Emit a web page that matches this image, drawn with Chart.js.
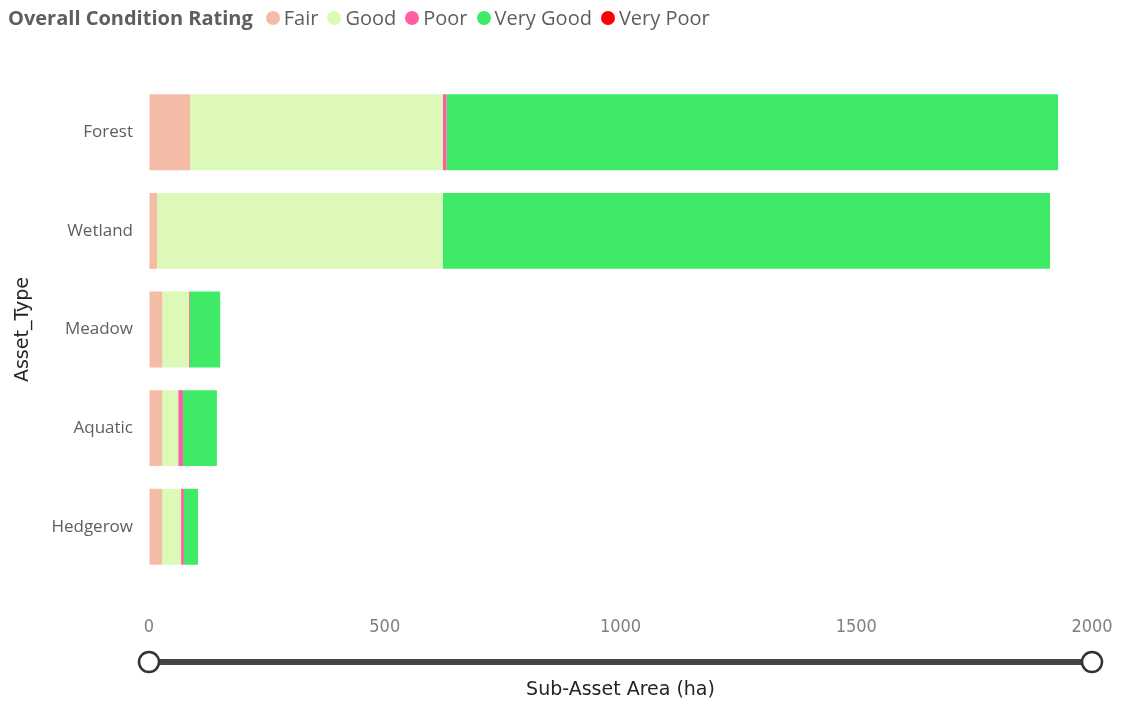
<!DOCTYPE html>
<html>
<head>
<meta charset="utf-8">
<script src="https://cdn.jsdelivr.net/npm/chart.js@4"></script>
<style>
  body { margin: 0; background: #fff; }
  #wrap { position: relative; width: 1121px; height: 701px; }
  #legend { position: absolute; left: 8px; top: 4px; font-family: "Open Sans", sans-serif; font-size: 20px; color: #605e5c; display: flex; align-items: center; white-space: nowrap; }
  #legend .ttl { font-weight: 700; margin-right: 13px; }
  #legend .item { display: flex; align-items: center; margin-right: 9px; }
  #legend .dot { width: 14px; height: 14px; border-radius: 50%; margin-right: 4px; }
</style>
</head>
<body>
<div id="wrap">
  <canvas id="assetChart" width="1121" height="701"></canvas>
  <div id="legend"><span class="ttl">Overall Condition Rating</span></div>
</div>
<script>
const categories = ['Forest', 'Wetland', 'Meadow', 'Aquatic', 'Hedgerow'];
const fair = [87, 17, 28, 28, 28];
const good = [536, 606, 57, 34, 40];
const poor = [8, 0, 2, 10, 6];
const veryGood = [1297, 1288, 64, 72, 30];
const veryPoor = [0, 0, 0, 0, 0];
const xTicks = [0, 500, 1000, 1500, 2000];

const series = [
  { label: 'Fair', data: fair, color: '#f4bca7' },
  { label: 'Good', data: good, color: '#ddf9b8' },
  { label: 'Poor', data: poor, color: '#fd5fa2' },
  { label: 'Very Good', data: veryGood, color: '#3fea67' },
  { label: 'Very Poor', data: veryPoor, color: '#fd0000' }
];

// range slider under the x axis
const sliderPlugin = {
  id: 'slider',
  afterDraw(chart) {
    const x = chart.scales.x;
    const x0 = x.getPixelForValue(xTicks[0]);
    const x1 = x.getPixelForValue(xTicks[xTicks.length - 1]);
    const y = 662;
    const ctx = chart.ctx;
    ctx.save();
    ctx.strokeStyle = '#444';
    ctx.lineWidth = 6;
    ctx.beginPath();
    ctx.moveTo(x0, y);
    ctx.lineTo(x1, y);
    ctx.stroke();
    ctx.lineWidth = 2.5;
    ctx.fillStyle = '#fff';
    ctx.strokeStyle = '#333';
    [x0, x1].forEach(px => {
      ctx.beginPath();
      ctx.arc(px, y, 10, 0, Math.PI * 2);
      ctx.fill();
      ctx.stroke();
    });
    ctx.restore();
  }
};

const chart = new Chart(document.getElementById('assetChart'), {
  type: 'bar',
  data: {
    labels: categories,
    datasets: series.map(s => ({
      label: s.label,
      data: s.data,
      backgroundColor: s.color,
      barPercentage: 0.77,
      categoryPercentage: 1
    }))
  },
  options: {
    indexAxis: 'y',
    responsive: false,
    animation: false,
    layout: { padding: { top: 83, right: 29, left: 0, bottom: 0 } },
    plugins: { legend: { display: false }, tooltip: { enabled: false } },
    scales: {
      x: {
        stacked: true,
        min: 0,
        max: 2000,
        afterBuildTicks: axis => { axis.ticks = xTicks.map(v => ({ value: v })); },
        afterFit: axis => { axis.height = 125; },
        grid: { display: true, color: 'rgba(0,0,0,0)', drawOnChartArea: false, tickLength: 41 },
        border: { display: false },
        ticks: { color: '#808080', padding: 0, maxRotation: 0, callback: v => String(v), font: { family: 'DejaVu Sans Condensed', size: 18 } },
        title: { display: true, text: 'Sub-Asset Area (ha)', color: '#252423', padding: { top: 0, bottom: 0 }, font: { family: 'DejaVu Sans', size: 19 } }
      },
      y: {
        stacked: true,
        afterFit: axis => { axis.width = 149; },
        grid: { display: false },
        border: { display: false },
        ticks: { color: '#605e5c', padding: 8, font: { family: 'Open Sans', size: 17 } },
        title: { display: true, text: 'Asset_Type', color: '#252423', padding: { top: 12, bottom: 0 }, font: { family: 'DejaVu Sans', size: 19 } }
      }
    }
  },
  plugins: [sliderPlugin]
});

const legend = document.getElementById('legend');
series.forEach(s => {
  const item = document.createElement('span');
  item.className = 'item';
  item.innerHTML = '<span class="dot" style="background:' + s.color + '"></span>' + s.label;
  legend.appendChild(item);
});
</script>
</body>
</html>
